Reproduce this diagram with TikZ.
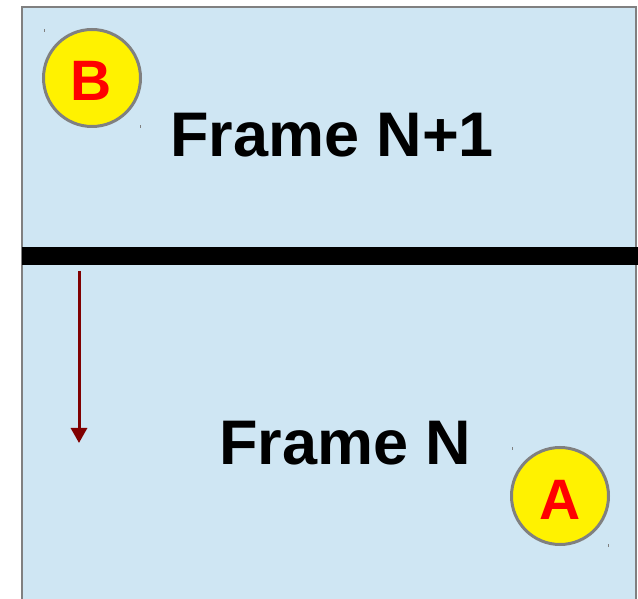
\documentclass[tikz,border=0pt]{standalone}
\usepackage{fontspec}
\setmainfont{Liberation Sans}
\usetikzlibrary{arrows.meta}
\definecolor{framebg}{RGB}{207,230,243}
\definecolor{edgegray}{RGB}{128,128,128}
\definecolor{arrowred}{RGB}{128,0,0}
\tikzset{
  framelabel/.style={anchor=base, inner sep=0pt, font=\fontsize{63}{63}\selectfont\bfseries, text=black},
  marker/.style={circle, draw=edgegray, line width=3pt, fill=yellow, minimum size=97pt, inner sep=0pt},
  markerletter/.style={inner sep=0pt, font=\fontsize{57}{57}\selectfont\bfseries, text=red},
  tick/.style={draw=edgegray, line width=1pt}
}
\begin{document}
\begin{tikzpicture}[x=1pt,y=1pt]
\useasboundingbox (0,0) rectangle (638,598);
\clip (0,0) rectangle (638,598);
% frame area
\fill[framebg] (22,-10) rectangle (636,591);
\draw[edgegray, line width=2pt] (22,-10) -- (22,591) -- (636,591) -- (636,-10);
% separator bar
\fill[black] (22,333) rectangle (638,351);
% labels
\node[framelabel] (top) at (332,441.3) {Frame N+1};
\node[framelabel] (bottom) at (345.5,133) {Frame N};
% markers
\node[marker] (B) at (92,520) {};
\node[markerletter] (Bl) at (91.5,517) {B};
\node[marker] (A) at (560,102) {};
\node[markerletter] (Al) at (560,98) {A};
% tiny marks
\draw[tick] (44,566) -- (44,569);
\draw[tick] (140,470) -- (140,473);
\draw[tick] (512,148) -- (512,151);
\draw[tick] (608,51) -- (608,54);
% arrow
\coordinate (s) at (79,327);
\coordinate (e) at (79,155);
\draw[arrowred, line width=3pt, -{Triangle[length=15pt,width=16pt]}] (s) -- (e);
\end{tikzpicture}
\end{document}
